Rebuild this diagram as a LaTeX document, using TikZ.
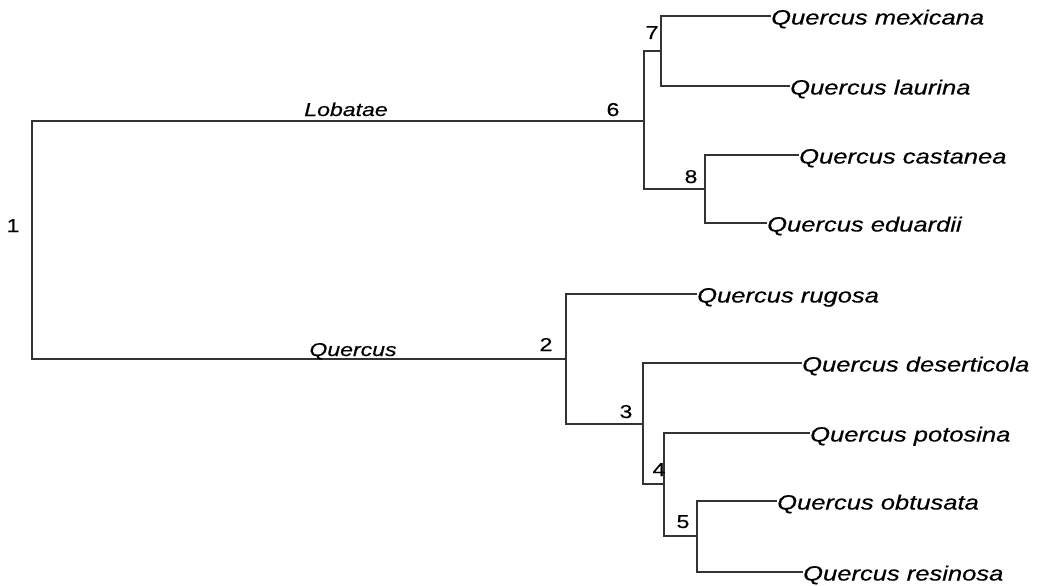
\documentclass[tikz,border=0pt]{standalone}
\usepackage{fontspec}
\setmainfont{Liberation Sans}[FakeStretch=1.24,FakeBold=0.4]
\begin{document}
\begin{tikzpicture}[x=1pt,y=-1pt,
  branch/.style={draw=black!80,line width=1.3pt},
  tip/.style={inner sep=0pt,anchor=base west,font=\fontsize{20.6}{24}\selectfont\itshape},
  clade/.style={inner sep=0pt,anchor=base,font=\fontsize{18.6}{22}\selectfont\itshape},
  num/.style={inner sep=0pt,anchor=base,font=\fontsize{18.6}{22}\selectfont}]
\useasboundingbox (0,0) rectangle (1039,586);
% internal nodes
\coordinate (n1) at (32,239.5);
\coordinate (n6) at (644,121);
\coordinate (n7) at (661,51);
\coordinate (n8) at (705,189);
\coordinate (n2) at (566,359);
\coordinate (n3) at (643,424);
\coordinate (n4) at (664,484);
\coordinate (n5) at (697,536);
% tips
\coordinate (tmex) at (771,16);
\coordinate (tlau) at (790,86);
\coordinate (tcas) at (799,155);
\coordinate (tedu) at (767,223);
\coordinate (trug) at (697,294);
\coordinate (tdes) at (802,363);
\coordinate (tpot) at (810,433);
\coordinate (tobt) at (777,501);
\coordinate (tres) at (803,572);
% branches
\draw[branch] (n1) |- (n6);
\draw[branch] (n1) |- (n2);
\draw[branch] (n6) |- (n7);
\draw[branch] (n6) |- (n8);
\draw[branch] (n7) |- (tmex);
\draw[branch] (n7) |- (tlau);
\draw[branch] (n8) |- (tcas);
\draw[branch] (n8) |- (tedu);
\draw[branch] (n2) |- (trug);
\draw[branch] (n2) |- (n3);
\draw[branch] (n3) |- (tdes);
\draw[branch] (n3) |- (n4);
\draw[branch] (n4) |- (tpot);
\draw[branch] (n4) |- (n5);
\draw[branch] (n5) |- (tobt);
\draw[branch] (n5) |- (tres);
% tip labels
\node[tip] (lmex) at (771,24.5) {Quercus mexicana};
\node[tip] (llau) at (790,94.5) {Quercus laurina};
\node[tip] (lcas) at (799,163.5) {Quercus castanea};
\node[tip] (ledu) at (767,231.5) {Quercus eduardii};
\node[tip] (lrug) at (697,302.5) {Quercus rugosa};
\node[tip] (ldes) at (802,371.5) {Quercus deserticola};
\node[tip] (lpot) at (810,441.5) {Quercus potosina};
\node[tip] (lobt) at (777,509.5) {Quercus obtusata};
\node[tip] (lres) at (803,580.5) {Quercus resinosa};
% clade labels
\node[clade] (cLob) at (346,116) {Lobatae};
\node[clade] (cQue) at (353,356) {Quercus};
% node numbers
\node[num] (k1) at (13,232) {1};
\node[num] (k2) at (546,351) {2};
\node[num] (k3) at (626,418) {3};
\node[num] (k4) at (659,476) {4};
\node[num] (k5) at (683,528) {5};
\node[num] (k6) at (613,116) {6};
\node[num] (k7) at (652,39) {7};
\node[num] (k8) at (691,183) {8};
\end{tikzpicture}
\end{document}
